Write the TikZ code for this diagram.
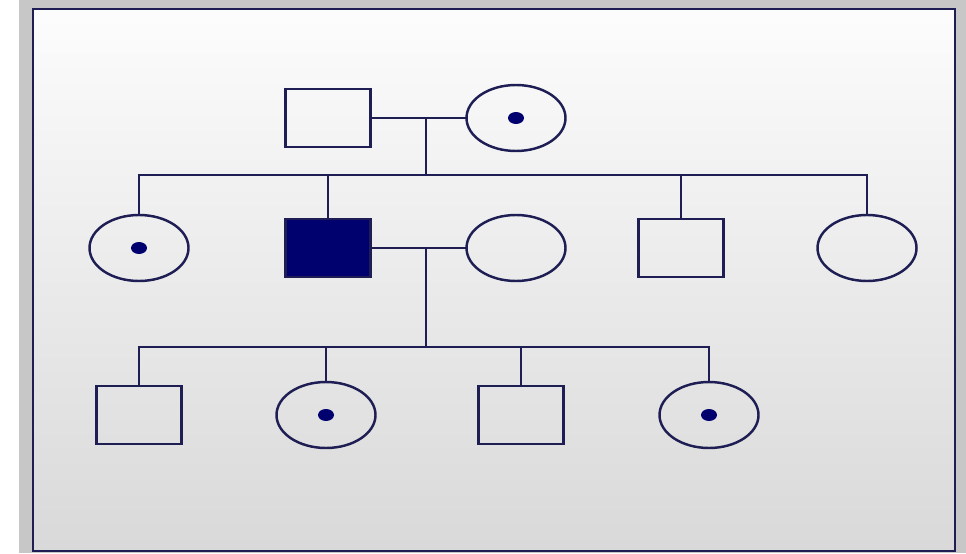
\documentclass[tikz,border=0pt]{standalone}
\usepackage{xcolor}
\usetikzlibrary{shapes.geometric, calc, positioning}
\definecolor{pedline}{RGB}{30,30,85}
\definecolor{pedfill}{RGB}{0,0,110}
\tikzset{pedigree/.style = { line width = 1.4pt, draw = pedline }}

\begin{document}
\begin{tikzpicture}[pedigree,
		male/.style    = { draw, rectangle, minimum width = 1.7cm, minimum height = 1.16cm, inner sep = 0pt, outer sep = 0pt },
		female/.style  = { draw, ellipse, minimum width = 1.98cm, minimum height = 1.32cm, inner sep = 0pt, outer sep = 0pt },
		carrier/.style = { female, path picture = { \fill [pedfill] (path picture bounding box.center) ellipse (0.16cm and 0.12cm); } },
		affected/.style = { male, fill = pedfill }]
		\useasboundingbox (0,0) rectangle (19.32,-11.06);
		\fill [white]          (0,0)       rectangle (19.32,-11.06);
		\fill [black!22]       (0.38,0)    rectangle (19.32,-11.06);
		\draw [top color = black!1, bottom color = black!15] (0.66,-0.18) rectangle (19.1,-11.02);

		\node [male]                             (father) at (6.56,-2.36) {};
		\node [carrier, right = 1.92 of father]  (mother) {};

		\node [affected, below = 1.44 of father] (son)   {};
		\node [carrier, left = 1.94 of son]      (dau1)  {};
		\node [female, right = 1.92 of son]      (wife)  {};
		\node [male, right = 1.46 of wife]       (son2)  {};
		\node [female, right = 1.88 of son2]     (dau2)  {};

		\node [male, below = 2.1 of dau1]        (gs1) {};
		\node [carrier, right = 1.9 of gs1]      (gd1) {};
		\node [male, right = 2.06 of gd1]        (gs2) {};
		\node [carrier, right = 1.92 of gs2]     (gd2) {};

		% first generation
		\coordinate (m1)   at ($(father.east)!.58!(mother.west)$);
		\coordinate (sib1) at ($(m1) + (0,-1.14)$);
		\draw (father) -- (mother);
		\draw (m1) -- (sib1);
		\draw (dau1.north) |- (sib1 -| dau2.north) -- (dau2.north);
		\draw (son.north)  -- (son.north |- sib1);
		\draw (son2.north) -- (son2.north |- sib1);

		% second generation
		\coordinate (m2)   at ($(son.east)!.58!(wife.west)$);
		\coordinate (sib2) at ($(m2) + (0,-1.98)$);
		\draw (son) -- (wife);
		\draw (m2) -- (sib2);
		\draw (gs1.north) |- (sib2 -| gd2.north) -- (gd2.north);
		\draw (gd1.north) -- (gd1.north |- sib2);
		\draw (gs2.north) -- (gs2.north |- sib2);
	\end{tikzpicture}
\end{document}
